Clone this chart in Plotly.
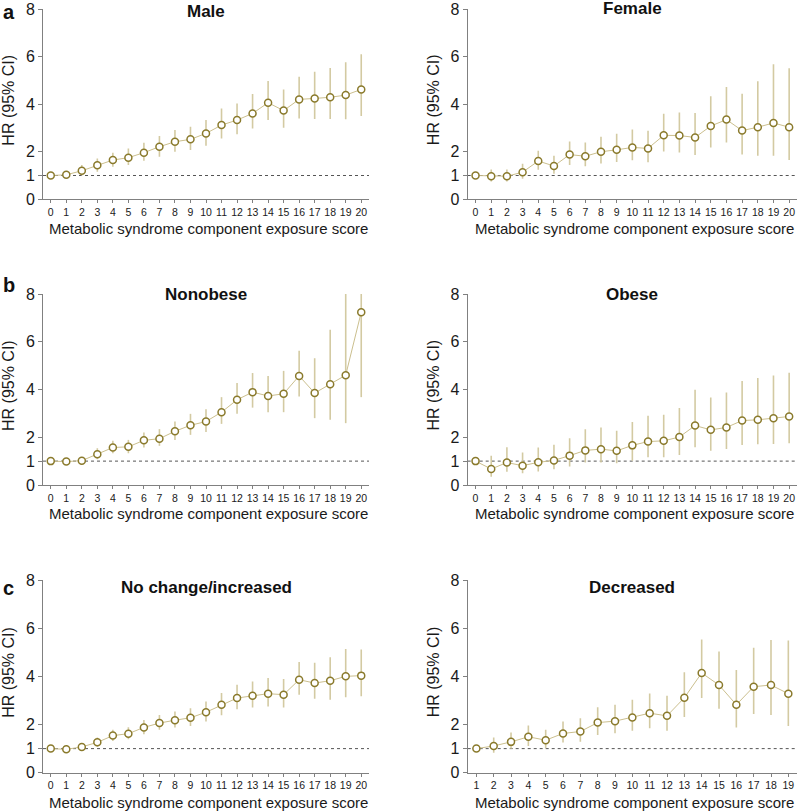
import plotly.graph_objects as go
from plotly.subplots import make_subplots

# ---------------- data ----------------
scores_full = [0, 1, 2, 3, 4, 5, 6, 7, 8, 9, 10, 11, 12, 13, 14, 15, 16, 17, 18, 19, 20]
scores_dec = [1, 2, 3, 4, 5, 6, 7, 8, 9, 10, 11, 12, 13, 14, 15, 16, 17, 18, 19]
y_tick_vals = [0, 1, 2, 4, 6, 8]

male_hr = [1.0, 1.03, 1.2, 1.43, 1.65, 1.75, 1.96, 2.21, 2.42, 2.52, 2.77, 3.12, 3.33, 3.61, 4.06, 3.73, 4.2, 4.24, 4.29, 4.38, 4.62]
male_lo = [1.0, 0.93, 1.0, 1.16, 1.37, 1.44, 1.62, 1.79, 2.0, 2.07, 2.25, 2.56, 2.73, 2.98, 3.33, 3.01, 3.4, 3.38, 3.38, 3.36, 3.5]
male_hi = [1.0, 1.15, 1.44, 1.72, 1.96, 2.14, 2.38, 2.66, 2.91, 3.05, 3.33, 3.82, 4.03, 4.43, 4.97, 4.62, 5.15, 5.36, 5.52, 5.76, 6.1]

female_hr = [1.0, 0.97, 0.97, 1.14, 1.61, 1.4, 1.88, 1.81, 2.0, 2.08, 2.18, 2.14, 2.69, 2.68, 2.6, 3.08, 3.35, 2.89, 3.03, 3.21, 3.03]
female_lo = [1.0, 0.75, 0.75, 0.86, 1.24, 1.07, 1.44, 1.39, 1.51, 1.57, 1.64, 1.56, 2.01, 1.97, 1.86, 2.18, 2.39, 1.88, 1.83, 1.83, 1.65]
female_hi = [1.0, 1.25, 1.25, 1.49, 2.04, 1.83, 2.43, 2.39, 2.63, 2.76, 2.93, 2.88, 3.6, 3.65, 3.63, 4.33, 4.72, 4.44, 4.96, 5.68, 5.51]

nonobese_hr = [1.0, 0.98, 1.02, 1.29, 1.57, 1.6, 1.87, 1.94, 2.25, 2.5, 2.66, 3.05, 3.57, 3.89, 3.73, 3.82, 4.57, 3.85, 4.22, 4.6, 7.24]
nonobese_lo = [1.0, 0.9, 0.93, 1.08, 1.33, 1.33, 1.57, 1.64, 1.89, 2.1, 2.22, 2.56, 2.98, 3.24, 3.05, 3.05, 3.71, 2.8, 2.73, 2.59, 3.68]
nonobese_hi = [1.0, 1.07, 1.12, 1.54, 1.85, 1.89, 2.2, 2.34, 2.66, 2.98, 3.17, 3.68, 4.27, 4.69, 4.57, 4.78, 5.62, 5.31, 6.5, 8.0, 8.0]

obese_hr = [1.0, 0.67, 0.94, 0.81, 0.95, 1.03, 1.23, 1.45, 1.5, 1.43, 1.66, 1.82, 1.85, 2.01, 2.49, 2.31, 2.41, 2.7, 2.73, 2.8, 2.87]
obese_lo = [1.0, 0.35, 0.56, 0.49, 0.57, 0.66, 0.77, 0.94, 0.94, 0.91, 1.02, 1.16, 1.16, 1.26, 1.58, 1.43, 1.51, 1.68, 1.71, 1.72, 1.75]
obese_hi = [1.0, 1.22, 1.58, 1.36, 1.57, 1.69, 1.96, 2.34, 2.41, 2.27, 2.64, 2.9, 2.94, 3.22, 3.99, 3.67, 3.87, 4.36, 4.48, 4.59, 4.7]

nochange_hr = [1.0, 0.97, 1.07, 1.26, 1.54, 1.62, 1.88, 2.06, 2.18, 2.28, 2.51, 2.82, 3.1, 3.19, 3.28, 3.24, 3.86, 3.72, 3.82, 4.0, 4.03]
nochange_lo = [1.0, 0.9, 0.93, 1.08, 1.32, 1.39, 1.6, 1.78, 1.88, 1.94, 2.13, 2.38, 2.63, 2.71, 2.75, 2.71, 3.24, 3.07, 3.03, 3.13, 3.17]
nochange_hi = [1.0, 1.05, 1.2, 1.46, 1.78, 1.89, 2.19, 2.4, 2.54, 2.68, 2.96, 3.31, 3.65, 3.79, 3.93, 3.89, 4.6, 4.56, 4.79, 5.14, 5.11]

decreased_hr = [1.0, 1.11, 1.28, 1.49, 1.35, 1.63, 1.71, 2.08, 2.14, 2.29, 2.47, 2.36, 3.11, 4.14, 3.64, 2.82, 3.57, 3.64, 3.28]
decreased_lo = [1.0, 0.83, 0.99, 1.11, 1.01, 1.25, 1.29, 1.57, 1.64, 1.74, 1.85, 1.74, 2.31, 3.1, 2.65, 1.88, 2.44, 2.4, 1.94]
decreased_hi = [1.0, 1.46, 1.67, 1.96, 1.78, 2.13, 2.26, 2.72, 2.82, 3.03, 3.29, 3.19, 4.17, 5.53, 5.03, 4.26, 5.19, 5.51, 5.49]

panel_titles = ["Male", "Female", "Nonobese", "Obese", "No change/increased", "Decreased"]
panel_letters = ["a", "b", "c"]
x_title = "Metabolic syndrome component exposure score"
y_title = "HR (95% CI)"

panels = [
    (scores_full, male_hr, male_lo, male_hi),
    (scores_full, female_hr, female_lo, female_hi),
    (scores_full, nonobese_hr, nonobese_lo, nonobese_hi),
    (scores_full, obese_hr, obese_lo, obese_hi),
    (scores_full, nochange_hr, nochange_lo, nochange_hi),
    (scores_dec, decreased_hr, decreased_lo, decreased_hi),
]

# ---------------- style ----------------
W, H = 797, 811
FONT = "Liberation Sans, Arial, sans-serif"
MARKER_EDGE = "#8a7a2c"
ERR_COLOR = "#d3caa2"
LINE_COLOR = "#cbbf8e"
AXIS_COLOR = "#808080"

# pixel layout: (top_px, bottom_px) per row, (left_px, right_px) per col
rows_px = [(9, 199.3), (294, 485), (580, 772.7)]
cols_px = [(43, 369), (467.7, 797)]

def py(p):
    return 1 - p / H

def px(p):
    return p / W

fig = make_subplots(rows=3, cols=2, horizontal_spacing=0.05, vertical_spacing=0.05)

for i, (xs, hr, lo, hi) in enumerate(panels):
    r, c = i // 2 + 1, i % 2 + 1
    fig.add_trace(go.Scatter(
        x=xs, y=hr, mode="lines",
        line=dict(color=LINE_COLOR, width=1),
        error_y=dict(type="data", symmetric=False,
                     array=[h - v for h, v in zip(hi, hr)],
                     arrayminus=[v - l for v, l in zip(hr, lo)],
                     color=ERR_COLOR, thickness=1.6, width=0),
        hoverinfo="skip", showlegend=False), row=r, col=c)
    fig.add_trace(go.Scatter(
        x=xs, y=hr, mode="markers",
        marker=dict(size=7, color="white", line=dict(color=MARKER_EDGE, width=1.5)),
        showlegend=False), row=r, col=c)
    fig.add_hline(y=1, line=dict(color="#555555", width=1, dash="dot"), layer="below", row=r, col=c)

    top, bot = rows_px[r - 1]
    left, right = cols_px[c - 1]
    xr = [0.5, 19.5] if xs is scores_dec else [-0.5, 20.5]
    fig.update_xaxes(domain=[px(left), px(right)], range=xr, automargin=False,
                     tickvals=xs, ticktext=[str(v) for v in xs],
                     showline=True, linecolor=AXIS_COLOR, linewidth=1,
                     ticks="outside", ticklen=3, tickcolor=AXIS_COLOR,
                     tickfont=dict(family=FONT, size=10.5, color="#1a1a1a"),
                     showgrid=False, zeroline=False, fixedrange=True,
                     row=r, col=c)
    fig.update_yaxes(domain=[py(bot), py(top)], range=[0, 8], automargin=False,
                     tickvals=y_tick_vals, ticktext=[str(v) for v in y_tick_vals],
                     showline=True, linecolor=AXIS_COLOR, linewidth=1,
                     ticks="outside", ticklen=4, tickcolor=AXIS_COLOR,
                     tickfont=dict(family=FONT, size=16, color="#1a1a1a"),
                     showgrid=False, zeroline=False, fixedrange=True,
                     row=r, col=c)

annotations = []
title_y = [11, 9, 295, 295, 587, 587]
for i, t in enumerate(panel_titles):
    r, c = i // 2, i % 2
    left, right = cols_px[c]
    annotations.append(dict(text="<b>%s</b>" % t, x=px((left + right) / 2), y=py(title_y[i]),
                            xref="paper", yref="paper", showarrow=False,
                            xanchor="center", yanchor="middle",
                            font=dict(family=FONT, size=17, color="#111111")))
letter_y = [12, 285, 588]
for k, L in enumerate(panel_letters):
    annotations.append(dict(text="<b>%s</b>" % L, x=px(8.5), y=py(letter_y[k]),
                            xref="paper", yref="paper", showarrow=False,
                            xanchor="center", yanchor="middle",
                            font=dict(family=FONT, size=20, color="#111111")))
xtitle_y = [228, 513, 802]
ytitle_x = [8.5, 433]
for r in range(3):
    top, bot = rows_px[r]
    for c in range(2):
        left, right = cols_px[c]
        annotations.append(dict(text=x_title, x=px((left + right) / 2 + 2), y=py(xtitle_y[r]),
                                xref="paper", yref="paper", showarrow=False,
                                xanchor="center", yanchor="middle",
                                font=dict(family=FONT, size=15, color="#1a1a1a")))
        annotations.append(dict(text=y_title, x=px(ytitle_x[c]), y=py((top + bot) / 2 - 4),
                                xref="paper", yref="paper", showarrow=False, textangle=-90,
                                xanchor="center", yanchor="middle",
                                font=dict(family=FONT, size=16, color="#1a1a1a")))

fig.update_layout(width=W, height=H, margin=dict(l=0, r=0, t=0, b=0, autoexpand=False),
                  paper_bgcolor="white", plot_bgcolor="white",
                  annotations=annotations, showlegend=False,
                  font=dict(family=FONT))

css_fix = (
    "var s=document.createElement('style');"
    "s.innerHTML='html,body{margin:0!important;padding:0!important;overflow:hidden;height:811px;}"
    "body>div{margin:0;padding:0;line-height:0;height:811px;}';"
    "document.head.appendChild(s);"
)
fig.write_html("out.html", config={"displayModeBar": False}, post_script=css_fix)
